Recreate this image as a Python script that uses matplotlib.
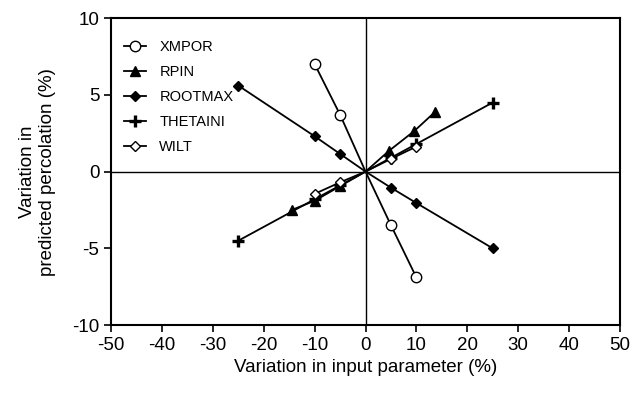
import matplotlib.pyplot as plt

plt.rcParams['font.family'] = ['Liberation Sans', 'DejaVu Sans']
plt.rcParams['axes.unicode_minus'] = False

# Sensitivity of predicted percolation to each input parameter
xmpor_x = [-10, -5, 0, 5, 10]
xmpor_y = [7.0, 3.7, 0, -3.5, -6.9]

rpin_x = [-14.5, -10, -5, 0, 4.6, 9.6, 13.7]
rpin_y = [-2.5, -1.9, -0.95, 0, 1.35, 2.65, 3.9]

rootmax_x = [-25, -10, -5, 0, 5, 10, 25]
rootmax_y = [5.6, 2.3, 1.15, 0, -1.05, -2.05, -5.0]

thetaini_x = [-25, -10, -5, 0, 5, 10, 25]
thetaini_y = [-4.5, -1.8, -0.9, 0, 0.9, 1.8, 4.5]

wilt_x = [-10, -5, 0, 5, 10]
wilt_y = [-1.45, -0.7, 0, 0.83, 1.63]

fig = plt.figure(figsize=(6.43, 3.94), dpi=100)
ax = fig.add_axes([0.173, 0.175, 0.791, 0.779])

ax.axhline(0, color='black', lw=1.0, zorder=1)
ax.axvline(0, color='black', lw=1.0, zorder=1)


def no_origin(xs):
    # markers everywhere except the shared origin point
    return [i for i, x in enumerate(xs) if x != 0]


kw = dict(color='black', lw=1.3, mec='black', zorder=3)
ax.plot(xmpor_x, xmpor_y, marker='o', ms=7.5, mfc='white', label='XMPOR',
        markevery=no_origin(xmpor_x), **kw)
ax.plot(rpin_x, rpin_y, marker='^', ms=7, mfc='black', label='RPIN',
        markevery=no_origin(rpin_x), **kw)
ax.plot(rootmax_x, rootmax_y, marker='D', ms=5.5, mfc='black', label='ROOTMAX',
        markevery=no_origin(rootmax_x), **kw)
ax.plot(thetaini_x, thetaini_y, marker='+', ms=9, mew=2.4, label='THETAINI',
        markevery=no_origin(thetaini_x), **kw)
ax.plot(wilt_x, wilt_y, marker='D', ms=5.5, mfc='white', label='WILT',
        markevery=no_origin(wilt_x), **kw)

ax.set_xlim(-50, 50)
ax.set_ylim(-10, 10)
ax.set_xticks(range(-50, 51, 10))
ax.set_yticks([-10, -5, 0, 5, 10])
ax.tick_params(direction='out', length=5, width=1.2, labelsize=13.5, colors='black')
for s in ax.spines.values():
    s.set_linewidth(1.5)

ax.set_xlabel('Variation in input parameter (%)', fontsize=13.5, labelpad=4)
ax.set_ylabel('Variation in\npredicted percolation (%)', fontsize=13.5, labelpad=12)

ax.legend(loc='upper left', frameon=False, fontsize=10.5, handlelength=1.5,
          labelspacing=0.75, handletextpad=0.9, borderaxespad=0.5,
          bbox_to_anchor=(0.0, 0.97))

fig.savefig('out.png', dpi=100)
